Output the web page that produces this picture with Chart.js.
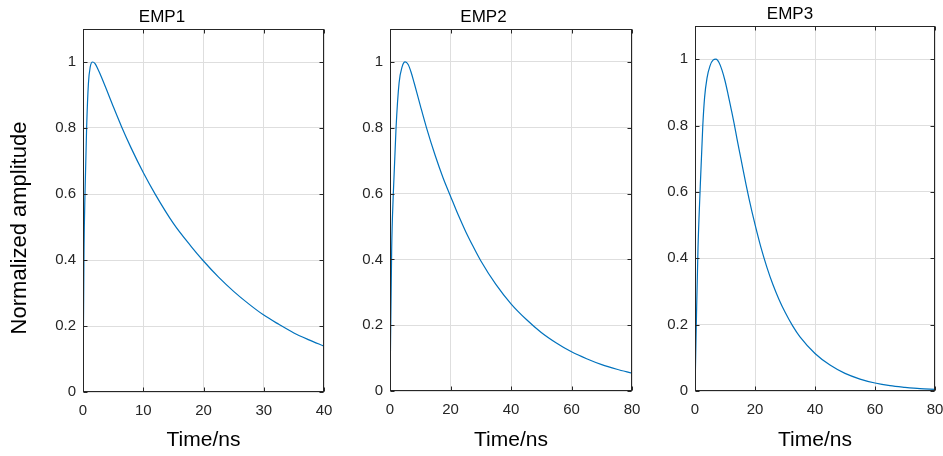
<!DOCTYPE html>
<html>
<head>
<meta charset="utf-8">
<script src="https://cdn.jsdelivr.net/npm/chart.js@4.4.1/dist/chart.umd.min.js"></script>
<style>
  html, body { margin: 0; padding: 0; background: #fff; overflow: hidden; }
  body { width: 943px; height: 456px; position: relative; }
  canvas { position: absolute; top: 0; }
</style>
</head>
<body>
<canvas id="emp1" width="346" height="456" style="left:0px"></canvas>
<canvas id="emp2" width="319" height="456" style="left:335px"></canvas>
<canvas id="emp3" width="312" height="456" style="left:645px"></canvas>
<script>
// values
const emp1Time = [0, 0.17, 0.33, 0.6, 0.9, 1.2, 1.6, 2, 2.5, 3, 4, 5, 6.4, 8, 10, 12, 15, 18, 20, 22.5, 25, 27.5, 30, 32.5, 35, 37.5, 40];
const emp1Amp  = [0, 0.43, 0.6, 0.8, 0.935, 0.985, 1.0, 0.995, 0.977, 0.957, 0.912, 0.866, 0.804, 0.739, 0.665, 0.599, 0.511, 0.44, 0.397, 0.348, 0.305, 0.267, 0.233, 0.205, 0.179, 0.158, 0.139];

const emp2Time = [0, 0.55, 1.1, 2, 3, 4, 5, 6, 7, 8, 10, 12, 15, 17.5, 20, 22.5, 25, 27.5, 30, 35, 40, 45, 50, 55, 60, 65, 70, 75, 80];
const emp2Amp  = [0, 0.43, 0.6, 0.8, 0.936, 0.985, 1.0, 0.992, 0.968, 0.936, 0.868, 0.802, 0.714, 0.649, 0.592, 0.536, 0.485, 0.439, 0.396, 0.324, 0.265, 0.218, 0.178, 0.146, 0.119, 0.098, 0.08, 0.066, 0.054];

const emp3Time = [0, 0.5, 1.0, 1.68, 2.6, 3.2, 4, 5, 6, 7, 8, 9, 10, 11, 12, 13, 14, 15, 16, 17, 18, 19, 20, 22, 24, 26, 28, 30, 32.5, 35, 40, 45, 50, 55, 60, 65, 70, 75, 80];
const emp3Amp  = [0, 0.23, 0.43, 0.6, 0.8, 0.885, 0.943, 0.98, 0.997, 1.0, 0.99, 0.967, 0.935, 0.895, 0.852, 0.808, 0.76, 0.714, 0.668, 0.623, 0.58, 0.54, 0.502, 0.432, 0.372, 0.32, 0.276, 0.238, 0.197, 0.163, 0.113, 0.078, 0.053, 0.036, 0.024, 0.016, 0.011, 0.007, 0.005];

const xTicks40 = [0, 10, 20, 30, 40];
const xTicks80 = [0, 20, 40, 60, 80];
const yTicks = [0, 0.2, 0.4, 0.6, 0.8, 1];
const yTickLabels = ['0', '0.2', '0.4', '0.6', '0.8', '1'];

const FONT = '"Liberation Sans", Arial, Helvetica, sans-serif';
const INK = '#262626';

// axes box with inward tick marks, like the original figure
const framePlugin = {
  id: 'frame',
  afterDraw(chart) {
    const { ctx, chartArea: a, scales: { x, y } } = chart;
    const L = Math.round(a.left) + 0.5, R = Math.round(a.right) - 0.5;
    const T = Math.round(a.top) + 0.5, B = Math.round(a.bottom) - 0.5;
    ctx.save();
    ctx.strokeStyle = INK;
    ctx.lineWidth = 1;
    ctx.beginPath();
    x.ticks.forEach(t => {
      const px = Math.round(x.getPixelForValue(t.value)) + 0.5;
      ctx.moveTo(px, B); ctx.lineTo(px, B - 4);
      ctx.moveTo(px, T); ctx.lineTo(px, T + 4);
    });
    y.ticks.forEach(t => {
      const py = Math.round(y.getPixelForValue(t.value)) + 0.5;
      ctx.moveTo(L, py); ctx.lineTo(L + 4, py);
      ctx.moveTo(R, py); ctx.lineTo(R - 4, py);
    });
    ctx.stroke();
    ctx.strokeRect(L, T, R - L, B - T);
    ctx.restore();
  }
};

// shared y label drawn on the first panel
const sideLabelPlugin = {
  id: 'sideLabel',
  afterDraw(chart, args, opts) {
    if (!opts.text) return;
    const ctx = chart.ctx;
    ctx.save();
    ctx.translate(opts.x, opts.y);
    ctx.rotate(-Math.PI / 2);
    ctx.fillStyle = '#000';
    ctx.font = '22px ' + FONT;
    ctx.textAlign = 'center';
    ctx.textBaseline = 'middle';
    ctx.fillText(opts.text, 0, 0);
    ctx.restore();
  }
};

function makeChart(id, title, time, amp, xMax, xTicks, cfg) {
  const ctx = document.getElementById(id).getContext('2d');
  return new Chart(ctx, {
    type: 'line',
    data: {
      datasets: [{
        data: time.map((t, i) => ({ x: t, y: amp[i] })),
        borderColor: '#0072BD',
        borderWidth: 1.2,
        pointRadius: 0,
        fill: false,
        cubicInterpolationMode: 'monotone'
      }]
    },
    options: {
      responsive: false,
      animation: false,
      events: [],
      devicePixelRatio: 1,
      layout: { padding: { left: 0, right: cfg.padRight, top: 0, bottom: 0 } },
      plugins: {
        legend: { display: false },
        tooltip: { enabled: false },
        title: {
          display: true,
          text: title,
          color: '#000',
          font: { family: FONT, size: 17, weight: 'normal' },
          padding: { top: cfg.titleTop, bottom: 1.5 }
        },
        sideLabel: cfg.sideLabel || {}
      },
      scales: {
        x: {
          type: 'linear',
          min: 0,
          max: xMax,
          afterBuildTicks: s => { s.ticks = xTicks.map(v => ({ value: v })); },
          afterFit: s => { s.height = cfg.xHeight; },
          grid: { color: '#dedede', drawTicks: false },
          border: { display: false },
          ticks: { color: INK, font: { family: FONT, size: 15 }, padding: 10, maxRotation: 0, autoSkip: false },
          title: {
            display: true,
            text: 'Time/ns',
            color: '#000',
            font: { family: FONT, size: 21 },
            padding: { top: 0, bottom: 3 }
          }
        },
        y: {
          min: 0,
          max: 1.1,
          afterBuildTicks: s => { s.ticks = yTicks.map(v => ({ value: v })); },
          afterFit: s => { s.width = cfg.yWidth; },
          grid: { color: '#dedede', drawTicks: false },
          border: { display: false },
          ticks: {
            color: INK,
            font: { family: FONT, size: 15 },
            padding: 7,
            callback: (v, i) => yTickLabels[i]
          }
        }
      }
    },
    plugins: [framePlugin, sideLabelPlugin]
  });
}

makeChart('emp1', 'EMP1', emp1Time, emp1Amp, 40, xTicks40, {
  yWidth: 83, padRight: 22, xHeight: 64, titleTop: 7.1,
  sideLabel: { text: 'Normalized amplitude', x: 20, y: 228 }
});
makeChart('emp2', 'EMP2', emp2Time, emp2Amp, 80, xTicks80, {
  yWidth: 55, padRight: 22, xHeight: 65, titleTop: 7.1
});
makeChart('emp3', 'EMP3', emp3Time, emp3Amp, 80, xTicks80, {
  yWidth: 50, padRight: 22, xHeight: 65, titleTop: 4.1
});
</script>
</body>
</html>
